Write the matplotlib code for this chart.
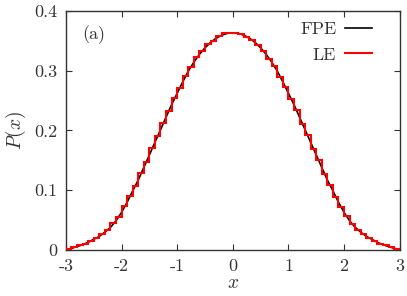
import numpy as np
import matplotlib
matplotlib.use("Agg")
import matplotlib.pyplot as plt

plt.rcParams['font.family'] = ['cmr10', 'DejaVu Serif']
plt.rcParams['mathtext.fontset'] = 'cm'
plt.rcParams['axes.unicode_minus'] = False

# FPE solution, sampled every 0.1 from -3 to 3
x_fpe = np.round(np.arange(-30, 31) * 0.1, 1)
p_fpe = [0.001, 0.003, 0.006, 0.009, 0.013, 0.018, 0.023, 0.030, 0.038, 0.049,
         0.063, 0.080, 0.099, 0.117, 0.138, 0.159, 0.180, 0.201, 0.222, 0.243,
         0.262, 0.281, 0.299, 0.314, 0.327, 0.338, 0.347, 0.354, 0.359, 0.362,
         0.363,
         0.362, 0.359, 0.354, 0.347, 0.338, 0.327, 0.314, 0.299, 0.281, 0.262,
         0.243, 0.222, 0.201, 0.180, 0.159, 0.138, 0.117, 0.099, 0.080, 0.063,
         0.049, 0.038, 0.030, 0.023, 0.018, 0.013, 0.009, 0.006, 0.003, 0.001]

# LE histogram, bins of width 0.1
bin_edges = np.round(np.arange(-30, 31) * 0.1, 1)
p_le = [0.002, 0.005, 0.008, 0.011, 0.016, 0.021, 0.027, 0.034, 0.045, 0.056,
        0.073, 0.090, 0.107, 0.129, 0.148, 0.171, 0.190, 0.213, 0.232, 0.254,
        0.271, 0.291, 0.306, 0.322, 0.332, 0.344, 0.350, 0.358, 0.362, 0.363,
        0.363, 0.361, 0.356, 0.351, 0.342, 0.333, 0.320, 0.307, 0.289, 0.272,
        0.252, 0.234, 0.211, 0.192, 0.169, 0.150, 0.127, 0.109, 0.089, 0.072,
        0.057, 0.044, 0.034, 0.027, 0.020, 0.016, 0.011, 0.008, 0.005, 0.002]

xticks = [-3, -2, -1, 0, 1, 2, 3]
xticklabels = ['-3', '-2', '-1', '0', '1', '2', '3']
yticks = [0, 0.1, 0.2, 0.3, 0.4]
yticklabels = ['0', '0.1', '0.2', '0.3', '0.4']

fig = plt.figure(figsize=(4.07, 2.96), dpi=100)
ax = fig.add_axes([0.162, 0.155, 0.820, 0.809])

ax.plot(x_fpe, p_fpe, color='black', lw=1.2, label='FPE', zorder=2)
ax.stairs(p_le, bin_edges, color='#ff0000', lw=1.5, label='LE', zorder=3)

ax.set_xlim(-3, 3)
ax.set_ylim(0, 0.4)
ax.set_xticks(xticks)
ax.set_xticklabels(xticklabels)
ax.set_yticks(yticks)
ax.set_yticklabels(yticklabels)
ax.tick_params(direction='in', top=True, right=True, length=4, width=0.8,
               labelsize=13, pad=6, colors='#333333', labelcolor='#333333')
for s in ax.spines.values():
    s.set_color('#333333')
    s.set_linewidth(1.0)

ax.set_xlabel('$x$', fontsize=14, labelpad=0, color='#333333')
ax.set_ylabel('$P(x)$', fontsize=14, labelpad=5, color='#333333')
ax.text(0.05, 0.9, '(a)', transform=ax.transAxes, fontsize=13,
        ha='left', va='center', color='#333333')

leg = ax.legend(loc='upper right', frameon=False, markerfirst=False,
                fontsize=13, handlelength=1.5, handletextpad=0.5,
                labelspacing=0.55, borderaxespad=0.0,
                bbox_to_anchor=(0.94, 0.985))
for t in leg.get_texts():
    t.set_color('#333333')

fig.savefig('out.png', dpi=100)
